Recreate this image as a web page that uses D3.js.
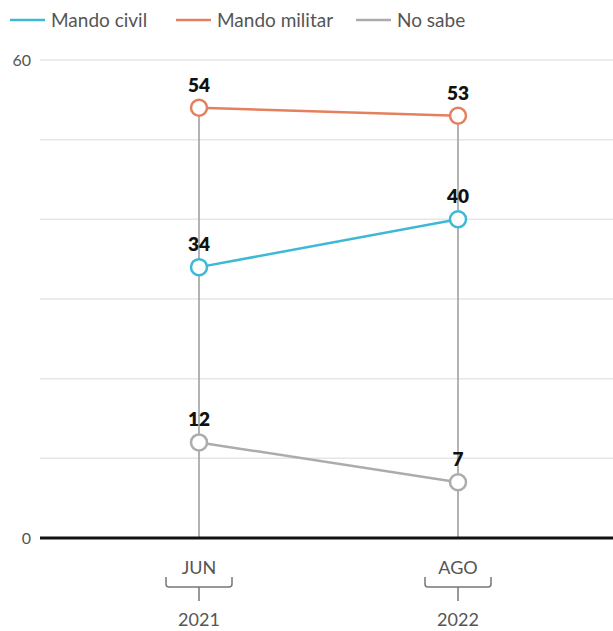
<!DOCTYPE html>
<html><head><meta charset="utf-8">
<script src="https://cdn.jsdelivr.net/npm/d3@7"></script>
<style>body{margin:0;background:#fff;}svg{display:block;font-family:Lato,"Noto Sans",sans-serif;}</style>
</head><body>
<svg id="c" width="613" height="631"></svg>
<script>
const periods = ["JUN 2021", "AGO 2022"];
const months = ["JUN", "AGO"];
const years = ["2021", "2022"];
const seriesNames = ["Mando civil", "Mando militar", "No sabe"];
const civil = [34, 40];
const militar = [54, 53];
const noSabe = [12, 7];
const yTicks = [0, 10, 20, 30, 40, 50, 60];
const yLabels = [0, 60];
const colors = ["#3db9d6", "#e4805f", "#acacac"];

const series = [civil, militar, noSabe];
const svg = d3.select("#c");
const y = d3.scaleLinear().domain([0, 60]).range([538, 60]);
const x = d3.scalePoint().domain(periods).range([199, 458]);

svg.append("g").selectAll("line").data(yTicks.filter(d => d > 0)).join("line")
  .attr("x1", 40).attr("x2", 613).attr("y1", d => y(d)).attr("y2", d => y(d))
  .attr("stroke", "#e6e6e6").attr("stroke-width", 1.5);

svg.append("g").selectAll("text").data(yLabels).join("text")
  .attr("x", 31).attr("y", d => y(d)).attr("dy", "0.35em").attr("text-anchor", "end")
  .attr("font-size", 16).attr("fill", "#555").text(d => d);

periods.forEach((p, i) => {
  const top = d3.max(series, s => s[i]);
  svg.append("line").attr("x1", x(p)).attr("x2", x(p)).attr("y1", y(top)).attr("y2", y(0))
    .attr("stroke", "#9a9a9a").attr("stroke-width", 1.5);
});

svg.append("line").attr("x1", 40).attr("x2", 613).attr("y1", y(0)).attr("y2", y(0))
  .attr("stroke", "#111").attr("stroke-width", 3);

const line = d3.line().x((d, i) => x(periods[i])).y(d => y(d));
series.forEach((s, k) => {
  svg.append("path").datum(s).attr("d", line).attr("fill", "none")
    .attr("stroke", colors[k]).attr("stroke-width", 2.5);
});
series.forEach((s, k) => {
  const g = svg.append("g");
  g.selectAll("circle").data(s).join("circle")
    .attr("cx", (d, i) => x(periods[i])).attr("cy", d => y(d)).attr("r", 8)
    .attr("fill", "#fff").attr("stroke", colors[k]).attr("stroke-width", 2.5);
  g.selectAll("text").data(s).join("text")
    .attr("x", (d, i) => x(periods[i])).attr("y", d => y(d) - 16)
    .attr("text-anchor", "middle").attr("font-size", 19).attr("font-weight", 800)
    .attr("fill", "#111").text(d => d);
});

periods.forEach((p, i) => {
  const cx = x(p);
  svg.append("text").attr("x", cx).attr("y", 574).attr("text-anchor", "middle")
    .attr("font-size", 18).attr("fill", "#555").text(months[i]);
  const l = cx - 33, r = cx + 33, t = 577, b = 587;
  svg.append("path")
    .attr("d", `M${l},${t} L${l},${b - 3} Q${l},${b} ${l + 3},${b} L${r - 3},${b} Q${r},${b} ${r},${b - 3} L${r},${t} M${cx},${b} L${cx},${b + 14}`)
    .attr("fill", "none").attr("stroke", "#777").attr("stroke-width", 1.5);
  svg.append("text").attr("x", cx).attr("y", 626).attr("text-anchor", "middle")
    .attr("font-size", 18).attr("fill", "#555").text(years[i]);
});

const legX = [10, 176, 356];
seriesNames.forEach((n, k) => {
  svg.append("line").attr("x1", legX[k]).attr("x2", legX[k] + 35).attr("y1", 20).attr("y2", 20)
    .attr("stroke", colors[k]).attr("stroke-width", 2.5);
  svg.append("text").attr("x", legX[k] + 41).attr("y", 20).attr("dy", "0.35em")
    .attr("font-size", 19).attr("fill", "#555").text(n);
});
</script>
</body></html>
